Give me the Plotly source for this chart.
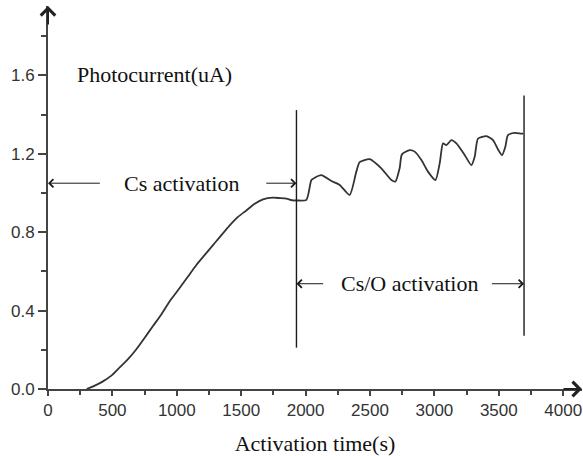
import plotly.graph_objects as go

# Photocurrent curve
time_s = [300, 363, 427, 492, 557, 621, 686, 751, 815, 880, 945, 1022, 1087, 1152,
          1217, 1281, 1411, 1475, 1540, 1605, 1669, 1747, 1799, 1851, 1902, 1929,
          2006, 2045, 2071, 2122, 2200, 2265, 2342, 2394, 2420, 2498, 2588, 2666,
          2697, 2730, 2748, 2808, 2847, 2899, 2950, 3008, 3041, 3067, 3093, 3132,
          3171, 3236, 3287, 3313, 3339, 3404, 3455, 3494, 3525, 3551, 3571, 3623,
          3675, 3690]
current_uA = [0.0, 0.017, 0.039, 0.068, 0.11, 0.152, 0.203, 0.262, 0.321, 0.38, 0.448,
              0.515, 0.574, 0.633, 0.684, 0.734, 0.835, 0.878, 0.911, 0.945, 0.967,
              0.976, 0.974, 0.971, 0.962, 0.962, 0.965, 1.066, 1.078, 1.091, 1.061,
              1.041, 0.99, 1.109, 1.157, 1.173, 1.126, 1.066, 1.058, 1.126, 1.197,
              1.219, 1.211, 1.168, 1.109, 1.066, 1.151, 1.253, 1.244, 1.27, 1.253,
              1.193, 1.142, 1.185, 1.278, 1.29, 1.27, 1.222, 1.193, 1.236, 1.295,
              1.307, 1.303, 1.303]

x_ticks = [0, 500, 1000, 1500, 2000, 2500, 3000, 3500, 4000]
y_ticks = [0.0, 0.4, 0.8, 1.2, 1.6]
x_max = 4146
y_max = 1.954

# Phase boundaries and annotation anchors (data units)
cs_end = 1929
cso_end = 3696
boundary_x = [cs_end, cso_end]
boundary_low = [0.211, 0.272]
boundary_high = [1.423, 1.497]
cs_label = ("Cs activation", 1040, 1.05)
cs_arrow_tails = [414, 1683]
cso_label = ("Cs/O activation", 2804, 0.537)
cso_arrow_tails = [2148, 3435]
ylabel = ("Photocurrent(uA)", 825, 1.603)

AXC = "#444444"
INK = "#1a1a1a"
SERIF = "Liberation Serif"
SANS = "Liberation Sans, Arial"

fig = go.Figure()
fig.add_trace(go.Scatter(x=time_s, y=current_uA, mode="lines",
                         line=dict(color="#333333", width=1.8, shape="spline", smoothing=0.6),
                         showlegend=False, hoverinfo="skip"))

for bx, lo, hi in zip(boundary_x, boundary_low, boundary_high):
    fig.add_shape(type="line", x0=bx, x1=bx, y0=lo, y1=hi, xref="x", yref="y",
                  line=dict(color=INK, width=1.4))

annotations = []
def arrow(head_x, tail_x, yv):
    return dict(x=head_x, y=yv, ax=tail_x, ay=yv, xref="x", yref="y", axref="x", ayref="y",
                text="", showarrow=True, arrowhead=4, arrowsize=1.6, arrowwidth=1,
                arrowcolor=INK, standoff=0, startstandoff=0)

annotations.append(arrow(0, cs_arrow_tails[0], cs_label[2]))
annotations.append(arrow(cs_end, cs_arrow_tails[1], cs_label[2]))
annotations.append(arrow(cs_end, cso_arrow_tails[0], cso_label[2]))
annotations.append(arrow(cso_end, cso_arrow_tails[1], cso_label[2]))

for txt, xv, yv in [cs_label, cso_label, ylabel]:
    annotations.append(dict(x=xv, y=yv, xref="x", yref="y", text=txt, showarrow=False,
                            font=dict(family=SERIF, size=22, color="#111111"),
                            xanchor="center", yanchor="middle"))

# axis arrowheads
annotations.append(dict(x=0, y=y_max, xref="x", yref="y", ax=0, ay=20, text="",
                        showarrow=True, arrowhead=4, arrowsize=1.4, arrowwidth=2,
                        arrowcolor="#222222", standoff=0))
annotations.append(dict(x=x_max, y=0, xref="x", yref="y", ax=-20, ay=0, text="",
                        showarrow=True, arrowhead=4, arrowsize=1.4, arrowwidth=2,
                        arrowcolor="#222222", standoff=0))

fig.update_layout(
    width=583, height=456,
    margin=dict(l=48, r=1, t=6, b=64),
    paper_bgcolor="white", plot_bgcolor="white",
    annotations=annotations,
    xaxis=dict(range=[0, x_max], tickvals=x_ticks, showgrid=False, zeroline=False,
               showline=True, linecolor=AXC, linewidth=2,
               ticks="outside", ticklen=5, tickwidth=1.5, tickcolor=AXC,
               minor=dict(dtick=250, tick0=0, ticks="outside", ticklen=4, tickwidth=1.5,
                          tickcolor=AXC, showgrid=False),
               tickfont=dict(family=SANS, size=17, color="#333333"),
               title=dict(text="Activation time(s)", standoff=19,
                          font=dict(family=SERIF, size=22, color="#111111"))),
    yaxis=dict(range=[0, y_max], tickvals=y_ticks, tickformat=".1f", showgrid=False,
               zeroline=False, showline=True, linecolor=AXC, linewidth=2,
               ticks="outside", ticklen=8, tickwidth=1.5, tickcolor=AXC,
               minor=dict(dtick=0.2, tick0=0, ticks="outside", ticklen=5, tickwidth=1.5,
                          tickcolor=AXC, showgrid=False),
               tickfont=dict(family=SANS, size=17, color="#333333")),
)

fig.write_html("out.html", config={"displayModeBar": False},
               post_script="document.body.style.margin='0px';document.body.style.overflow='hidden';")
